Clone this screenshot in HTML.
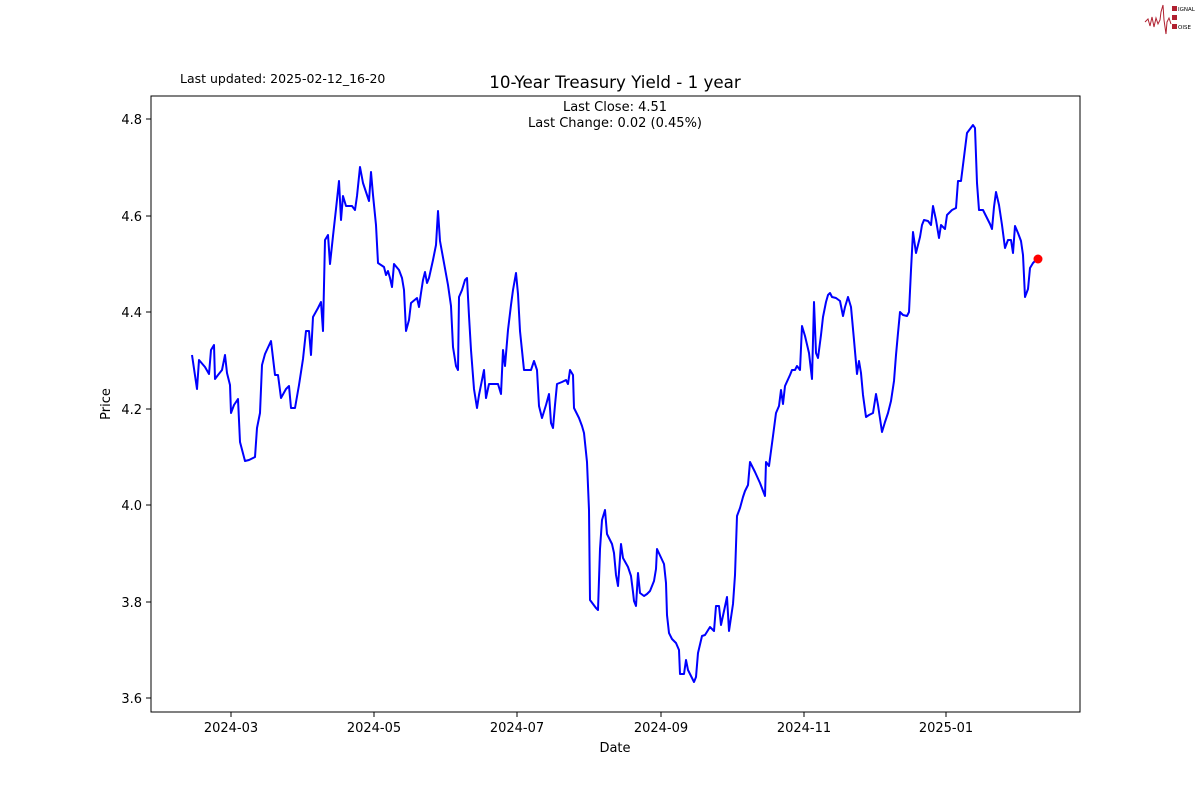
<!DOCTYPE html>
<html><head><meta charset="utf-8"><style>
html,body{margin:0;padding:0;background:#fff;width:1200px;height:800px;overflow:hidden}
svg text{font-family:"DejaVu Sans","Liberation Sans",sans-serif;fill:#000}
</style></head><body>
<svg width="1200" height="800" xmlns="http://www.w3.org/2000/svg">
<rect width="1200" height="800" fill="#fff"/>
<polyline points="1145,22 1148,19 1150,26 1152,17 1154,27 1156,18 1158,24 1160,20 1161,12 1163,5 1164,20 1166,34 1167,22 1169,18 1171,24" fill="none" stroke="#b02030" stroke-width="1"/>
<rect x="1172" y="6" width="5" height="5" fill="#b02030"/><rect x="1172" y="15" width="5" height="5" fill="#b02030"/><rect x="1172" y="24" width="5" height="5" fill="#b02030"/>
<text x="1178" y="11" font-size="5.5">IGNAL</text><text x="1178" y="29" font-size="5.5">OISE</text>
<text x="180" y="83" font-size="12.5">Last updated: 2025-02-12_16-20</text>
<text x="615" y="88" font-size="16.7" text-anchor="middle">10-Year Treasury Yield - 1 year</text>
<text x="615" y="111" font-size="13" text-anchor="middle">Last Close: 4.51</text>
<text x="615" y="127" font-size="13" text-anchor="middle">Last Change: 0.02 (0.45%)</text>
<rect x="151" y="96" width="929" height="616" fill="none" stroke="#000" stroke-width="1"/>
<g stroke="#000" stroke-width="1">
<line x1="146" y1="119" x2="151" y2="119"/><line x1="146" y1="216" x2="151" y2="216"/><line x1="146" y1="312" x2="151" y2="312"/><line x1="146" y1="409" x2="151" y2="409"/><line x1="146" y1="505" x2="151" y2="505"/><line x1="146" y1="602" x2="151" y2="602"/><line x1="146" y1="698" x2="151" y2="698"/>
<line x1="231" y1="712" x2="231" y2="717"/><line x1="374" y1="712" x2="374" y2="717"/><line x1="517" y1="712" x2="517" y2="717"/><line x1="661" y1="712" x2="661" y2="717"/><line x1="804" y1="712" x2="804" y2="717"/><line x1="946" y1="712" x2="946" y2="717"/>
</g>
<g font-size="13" text-anchor="end">
<text x="142" y="124">4.8</text><text x="142" y="221">4.6</text><text x="142" y="317">4.4</text><text x="142" y="414">4.2</text><text x="142" y="510">4.0</text><text x="142" y="607">3.8</text><text x="142" y="703">3.6</text>
</g>
<g font-size="13" text-anchor="middle">
<text x="231" y="732">2024-03</text><text x="374" y="732">2024-05</text><text x="517" y="732">2024-07</text><text x="661" y="732">2024-09</text><text x="804" y="732">2024-11</text><text x="946" y="732">2025-01</text>
<text x="615" y="752">Date</text>
</g>
<text x="110" y="404" font-size="13" text-anchor="middle" transform="rotate(-90 110 404)">Price</text>
<polyline fill="none" stroke="#0000ff" stroke-width="2" stroke-linejoin="round" points="192,355 197,389 199,360 205,367 209,374 211,350 214,345 215,379 218,375 222,370 225,355 227,373 230,385 231,413 234,405 238,399 240,442 245,461 249,460 255,457 257,428 260,413 262,365 265,354 271,341 275,375 278,375 281,398 286,389 289,386 291,408 295,408 299,385 303,359 306,331 309,331 311,355 313,317 318,308 321,302 323,331 325,240 328,235 330,264 333,236 336,209 339,181 341,220 343,196 346,206 352,206 355,210 357,196 360,167 363,183 369,201 371,172 373,195 376,225 378,263 384,267 386,275 388,271 390,278 392,287 394,264 399,270 402,278 404,290 406,331 409,320 411,303 417,298 419,307 421,293 423,280 425,272 427,283 429,278 433,260 436,245 438,211 440,241 448,285 451,306 453,347 456,366 458,370 459,297 462,290 465,280 467,278 469,316 471,350 474,389 477,408 479,395 482,380 484,370 486,398 489,384 492,384 498,384 501,394 503,350 505,366 508,330 511,305 513,290 516,273 518,294 520,331 524,370 531,370 534,361 537,370 539,406 542,418 546,405 549,394 551,423 553,428 555,405 557,384 562,382 566,380 568,384 570,370 573,375 574,408 579,418 582,426 584,433 587,462 589,510 590,600 596,608 598,610 600,549 602,520 605,510 607,534 612,544 614,553 616,575 618,586 621,544 623,558 628,567 631,576 633,592 634,601 636,606 638,573 640,593 644,596 647,594 650,591 654,581 656,569 657,549 664,564 666,583 667,615 669,633 672,639 676,643 679,650 680,674 684,674 686,660 688,670 694,682 696,677 698,653 702,636 705,635 710,627 714,631 716,606 719,606 721,625 727,597 729,631 733,604 735,575 737,516 740,508 743,497 745,491 748,485 750,462 755,472 760,483 765,496 766,462 769,466 773,436 776,413 779,406 781,390 783,404 785,386 790,375 792,370 795,370 797,366 800,370 802,326 805,336 809,353 812,379 814,302 816,353 818,358 821,335 823,317 826,302 828,295 830,293 832,297 836,298 840,301 843,316 845,307 848,297 851,307 854,340 857,374 859,361 861,373 863,395 866,417 869,415 873,413 876,394 878,405 882,432 885,422 888,413 891,401 894,381 896,355 898,333 900,312 903,315 907,316 909,312 911,270 913,232 916,253 920,237 922,225 924,220 928,221 931,225 933,206 936,220 939,238 941,225 945,229 947,215 952,210 956,208 958,181 961,181 964,157 967,133 973,125 975,128 977,183 979,210 983,210 990,224 992,229 994,207 996,192 999,205 1002,225 1005,248 1008,240 1011,240 1013,253 1015,226 1018,233 1021,241 1023,255 1025,297 1028,289 1030,268 1033,263 1035,261 1038,259"/>
<circle cx="1038" cy="259" r="4.5" fill="#ff0000"/>
</svg>
</body></html>
